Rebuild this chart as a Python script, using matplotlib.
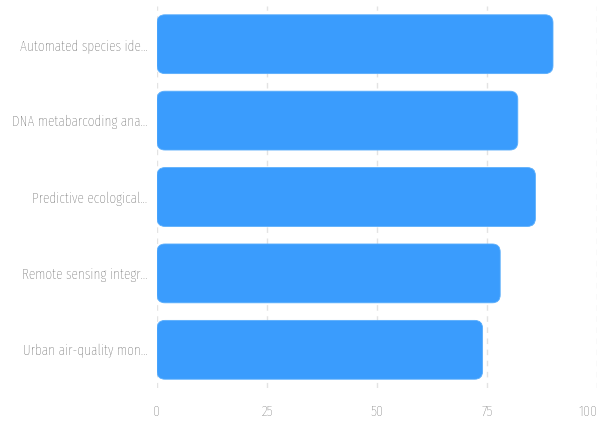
import matplotlib
matplotlib.use("Agg")
import matplotlib.pyplot as plt
from matplotlib.patches import FancyBboxPatch

plt.rcParams["font.family"] = ["Fira Sans Extra Condensed", "DejaVu Sans"]
plt.rcParams["font.weight"] = "light"

# data
labels = ["Automated species ide...", "DNA metabarcoding ana...", "Predictive ecological...",
          "Remote sensing integr...", "Urban air-quality mon..."]
values = [90, 82, 86, 78, 74]
xticks = [0, 25, 50, 75, 100]

fig = plt.figure(figsize=(6.01, 4.21), dpi=100)
ax = fig.add_axes([157 / 601, 1 - 388 / 421, 440 / 601, 382 / 421])

bars = ax.barh(range(len(values)), values, height=0.77, color="#3a9cfd")
ax.set_ylim(len(values) - 0.5, -0.5)
ax.set_xlim(0, 100)

# swap plain bars for rounded ones
for b in bars:
    x, y = b.get_x(), b.get_y()
    w, h = b.get_width(), b.get_height()
    b.set_visible(False)
    p = FancyBboxPatch((x, y), w, h, boxstyle="round,pad=0,rounding_size=1.8",
                       mutation_aspect=0.058, fc="#3a9cfd", ec="#5aaefc", lw=0.6, zorder=3)
    ax.add_patch(p)

ax.set_yticks(range(len(values)))
ax.set_yticklabels(labels)
ax.set_xticks(xticks)
ax.set_xticklabels([str(t) for t in xticks])
ax.tick_params(axis="both", length=0, colors="#4a4a4a", labelsize=10.5)
ax.tick_params(axis="y", pad=7)
ax.tick_params(axis="x", pad=12, labelsize=11, colors="#666666")
ax.get_xticklabels()[-1].set_ha("right")
for s in ax.spines.values():
    s.set_visible(False)
ax.grid(axis="x", color="#e3e3e3", linestyle=(0, (4, 4)), lw=1)
ax.set_axisbelow(True)

plt.savefig("out.png", dpi=100)
plt.close()
